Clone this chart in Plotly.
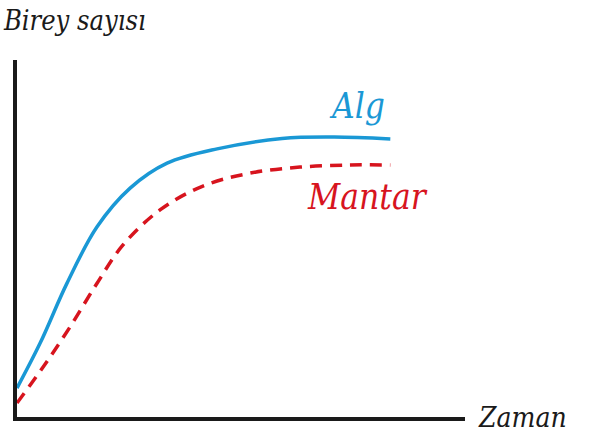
import plotly.graph_objects as go

# Data
time_alg = [0, 0.62, 1.34, 2.14, 3.03, 4.02, 5.36, 7.1, 8.5, 10]
alg = [8.1, 20.7, 37.5, 53.2, 64.1, 71.1, 75.1, 78.0, 78.4, 77.9]

time_mantar = [0, 0.7, 1.42, 2.14, 2.84, 3.83, 4.98, 6.24, 7.58, 8.92, 10]
mantar = [3.9, 14.0, 25.2, 37.4, 48.2, 58.0, 64.7, 68.3, 70.0, 70.6, 70.6]

labels = {"alg": "Alg", "mantar": "Mantar", "y": "Birey sayısı", "x": "Zaman"}

BLUE = "#1a98d5"
RED = "#d7141e"
BLACK = "#1a1a1a"
FONT = "DejaVu Serif Condensed, DejaVu Serif, serif"

fig = go.Figure()
fig.add_trace(go.Scatter(x=time_alg, y=alg, mode="lines",
                         line=dict(color=BLUE, width=3.5, shape="spline", smoothing=1.0),
                         cliponaxis=False, hoverinfo="skip"))
fig.add_trace(go.Scatter(x=time_mantar, y=mantar, mode="lines",
                         line=dict(color=RED, width=3.5, shape="spline", smoothing=1.0, dash="12px,8px"),
                         cliponaxis=False, hoverinfo="skip"))

ann_common = dict(showarrow=False, xanchor="left", yanchor="middle")
fig.add_annotation(text=labels["y"], xref="paper", yref="paper",
                   x=-0.035, y=1.11, font=dict(family=FONT, size=27, color=BLACK, style="italic"), **ann_common)
fig.add_annotation(text=labels["x"], xref="paper", yref="paper",
                   x=1.025, y=0.0, font=dict(family=FONT, size=28, color=BLACK, style="italic"), **ann_common)
fig.add_annotation(text=labels["alg"], xref="x", yref="y",
                   x=8.3, y=87, font=dict(family=FONT, size=35, color=BLUE, style="italic"), **ann_common)
fig.add_annotation(text=labels["mantar"], xref="x", yref="y",
                   x=7.72, y=61.5, font=dict(family=FONT, size=35, color=RED, style="italic"), **ann_common)

fig.update_layout(
    width=592, height=444,
    margin=dict(l=17, r=127, t=60, b=27),
    paper_bgcolor="white", plot_bgcolor="white",
    showlegend=False,
    xaxis=dict(range=[0, 12], showgrid=False, zeroline=False, showticklabels=False, ticks="",
               showline=True, linewidth=4, linecolor=BLACK, fixedrange=True),
    yaxis=dict(range=[0, 100], showgrid=False, zeroline=False, showticklabels=False, ticks="",
               showline=True, linewidth=4, linecolor=BLACK, fixedrange=True),
)

fig.write_html("out.html", config={"displayModeBar": False},
               post_script="document.body.style.margin='0';")
